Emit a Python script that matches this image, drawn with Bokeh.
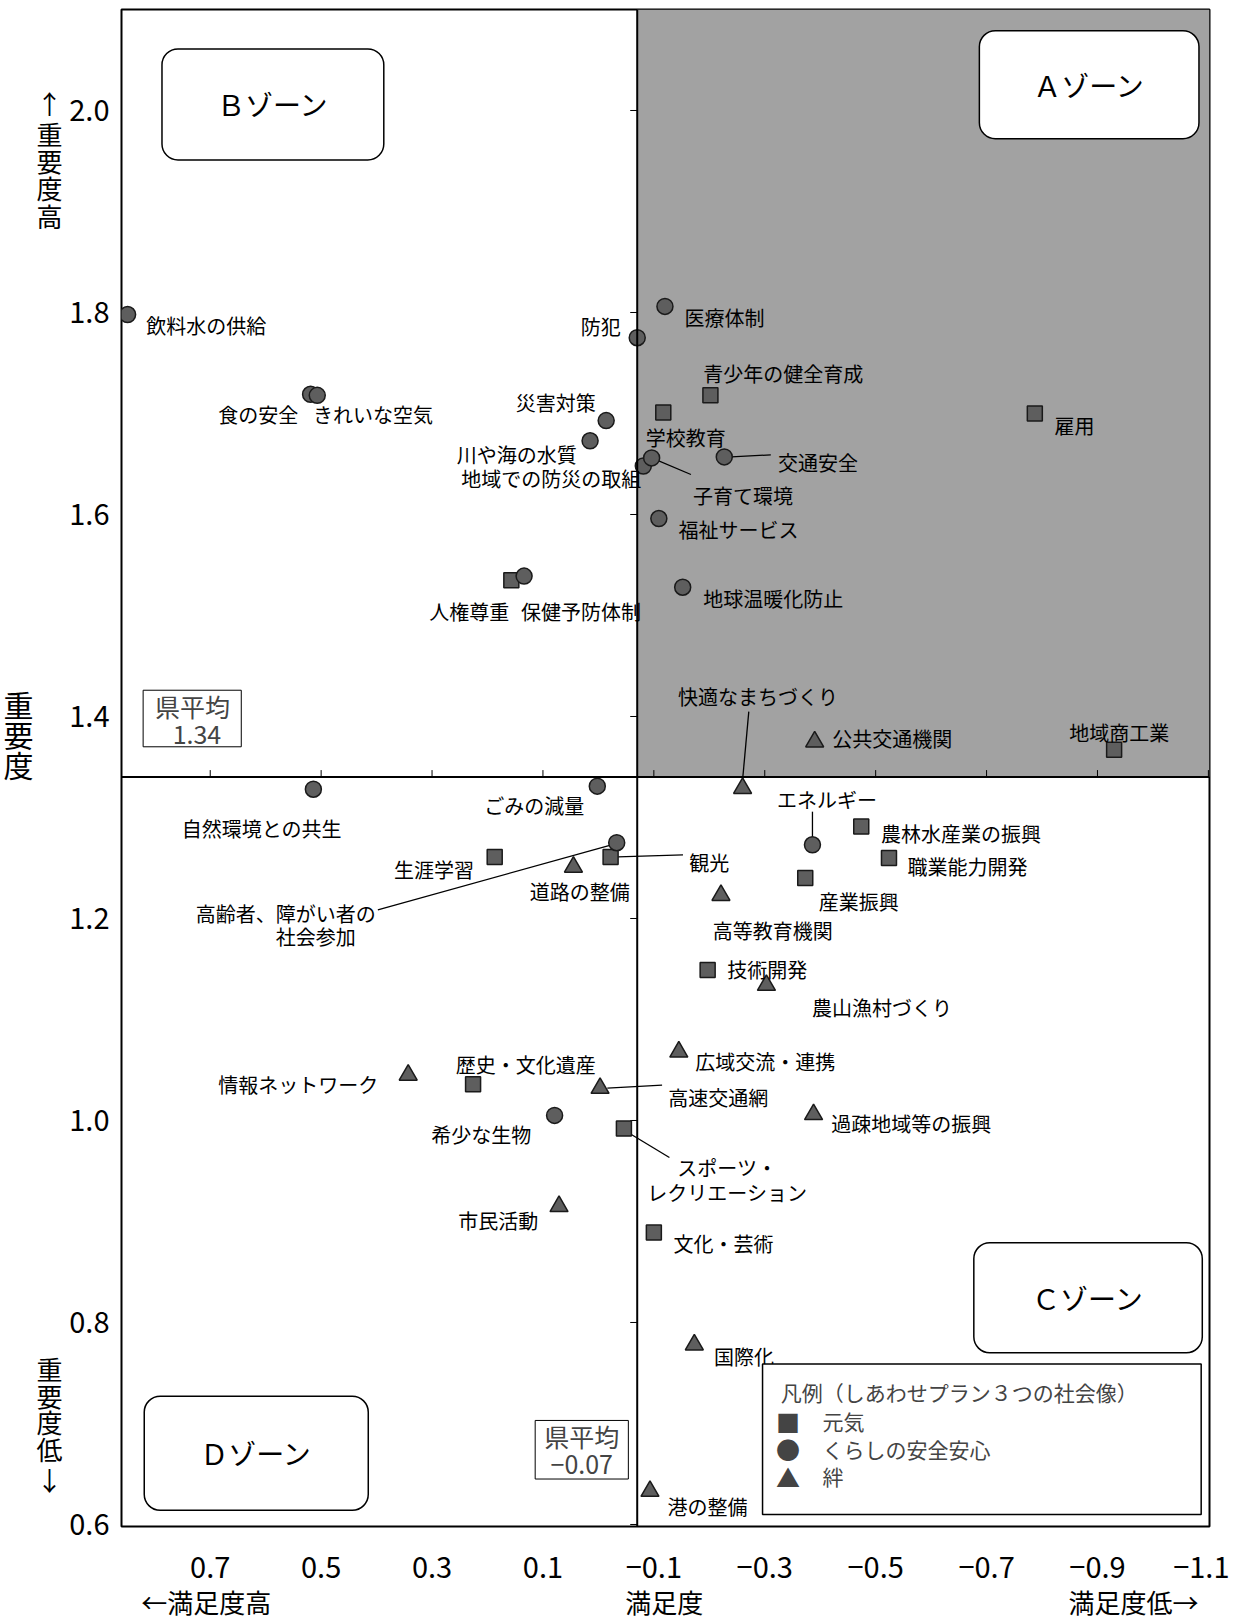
from bokeh.plotting import figure
from bokeh.models import ColumnDataSource, Range1d, FixedTicker, Span, BoxAnnotation, Label, LinearAxis
from bokeh.embed import file_html
from bokeh.resources import INLINE
from bokeh.core.properties import value

FONT = "Noto Sans CJK JP"

# ---------------- data ----------------
genki_names = ["青少年の健全育成", "学校教育", "雇用", "人権尊重", "地域商工業", "生涯学習", "観光",
               "農林水産業の振興", "職業能力開発", "産業振興", "技術開発", "歴史・文化遺産",
               "スポーツ・レクリエーション", "文化・芸術"]
genki_x = [-0.202, -0.117, -0.787, 0.157, -0.930, 0.187, -0.022, -0.474, -0.524, -0.373, -0.197, 0.226, -0.046, -0.100]
genki_y = [1.718, 1.701, 1.700, 1.535, 1.367, 1.261, 1.261, 1.291, 1.260, 1.240, 1.149, 1.036, 0.992, 0.889]

kurashi_names = ["飲料水の供給", "食の安全", "きれいな空気", "防犯", "医療体制", "災害対策", "川や海の水質",
                 "地域での防災の取組", "子育て環境", "交通安全", "福祉サービス", "地球温暖化防止", "保健予防体制",
                 "自然環境との共生", "ごみの減量", "高齢者、障がい者の社会参加", "エネルギー", "希少な生物"]
kurashi_x = [0.849, 0.519, 0.507, -0.070, -0.120, -0.014, 0.015, -0.081, -0.096, -0.227, -0.109, -0.152, 0.134,
             0.514, 0.002, -0.033, -0.386, 0.079]
kurashi_y = [1.798, 1.719, 1.718, 1.775, 1.806, 1.693, 1.673, 1.648, 1.656, 1.657, 1.596, 1.528, 1.539,
             1.328, 1.331, 1.275, 1.273, 1.005]

kizuna_names = ["快適なまちづくり", "公共交通機関", "道路の整備", "高等教育機関", "農山漁村づくり", "広域交流・連携",
                "情報ネットワーク", "高速交通網", "過疎地域等の振興", "市民活動", "国際化", "港の整備"]
kizuna_x = [-0.260, -0.390, 0.045, -0.221, -0.303, -0.145, 0.343, -0.003, -0.388, 0.071, -0.173, -0.093]
kizuna_y = [1.329, 1.375, 1.251, 1.223, 1.134, 1.068, 1.045, 1.032, 1.006, 0.915, 0.778, 0.633]

x_ticks = [0.7, 0.5, 0.3, 0.1, -0.1, -0.3, -0.5, -0.7, -0.9, -1.1]
x_tick_labels = ["0.7", "0.5", "0.3", "0.1", "−0.1", "−0.3", "−0.5", "−0.7", "−0.9", "−1.1"]
y_ticks = [2.0, 1.8, 1.6, 1.4, 1.2, 1.0, 0.8, 0.6]
y_tick_labels = ["2.0", "1.8", "1.6", "1.4", "1.2", "1.0", "0.8", "0.6"]

avg_x = -0.07   # 県平均 満足度
avg_y = 1.34    # 県平均 重要度

# ---------------- layout ----------------
X_LEFT, X_RIGHT = 0.86, -1.102
Y_BOTTOM, Y_TOP = 0.598, 2.1
FW, FH = 1088, 1517
PX_X = FW / (X_LEFT - X_RIGHT)
PX_Y = FH / (Y_TOP - Y_BOTTOM)
S = 1.034  # reference px scale


def yv(yf):
    return 2.0 - (yf - 108) / 1013.0


def xv(xf):
    return 0.7 - (xf - 209) / 555.6


# label offsets (reference px, screen: +x right, +y down)
label_spec = {
    "飲料水の供給": [("飲料水の供給", 18, 11, "left")],
    "食の安全": [("食の安全", -12, 20, "right")],
    "きれいな空気": [("きれいな空気", -4, 19, "left")],
    "防犯": [("防犯", -16, -11, "right")],
    "医療体制": [("医療体制", 19, 11, "left")],
    "災害対策": [("災害対策", -10, -17, "right")],
    "川や海の水質": [("川や海の水質", -13, 13, "right")],
    "地域での防災の取組": [("地域での防災の取組", -2, 12, "right")],
    "子育て環境": [("子育て環境", 40, 36, "left")],
    "交通安全": [("交通安全", 52, 5, "left")],
    "福祉サービス": [("福祉サービス", 19, 11, "left")],
    "地球温暖化防止": [("地球温暖化防止", 20, 11, "left")],
    "保健予防体制": [("保健予防体制", -3, 34, "left")],
    "自然環境との共生": [("自然環境との共生", -50, 38, "center")],
    "ごみの減量": [("ごみの減量", -61, 19, "center")],
    "高齢者、障がい者の社会参加": [("高齢者、障がい者の", -233, 68, "right"), ("社会参加", -291, 91, "center")],
    "エネルギー": [("エネルギー", 14, -44, "center")],
    "希少な生物": [("希少な生物", -71, 18, "center")],
    "青少年の健全育成": [("青少年の健全育成", -7, -21, "left")],
    "学校教育": [("学校教育", -17, 24, "left")],
    "雇用": [("雇用", 19, 12, "left")],
    "人権尊重": [("人権尊重", -2, 30, "right")],
    "地域商工業": [("地域商工業", 5, -17, "center")],
    "生涯学習": [("生涯学習", -20, 12, "right")],
    "観光": [("観光", 76, 5, "left")],
    "農林水産業の振興": [("農林水産業の振興", 19, 7, "left")],
    "職業能力開発": [("職業能力開発", 18, 8, "left")],
    "産業振興": [("産業振興", 13, 23, "left")],
    "技術開発": [("技術開発", 19, 0, "left")],
    "歴史・文化遺産": [("歴史・文化遺産", 51, -19, "center")],
    "スポーツ・レクリエーション": [("スポーツ・", 100, 38, "center"), ("レクリエーション", 100, 62, "center")],
    "文化・芸術": [("文化・芸術", 19, 11, "left")],
    "快適なまちづくり": [("快適なまちづくり", 15, -89, "center")],
    "公共交通機関": [("公共交通機関", 17, -3, "left")],
    "道路の整備": [("道路の整備", 6, 24, "center")],
    "高等教育機関": [("高等教育機関", 50, 34, "center")],
    "農山漁村づくり": [("農山漁村づくり", 44, 22, "left")],
    "広域交流・連携": [("広域交流・連携", 16, 9, "left")],
    "情報ネットワーク": [("情報ネットワーク", -29, 9, "right")],
    "高速交通網": [("高速交通網", 66, 9, "left")],
    "過疎地域等の振興": [("過疎地域等の振興", 17, 9, "left")],
    "市民活動": [("市民活動", -20, 14, "right")],
    "国際化": [("国際化", 19, 11, "left")],
    "港の整備": [("港の整備", 17, 15, "left")],
}
leader_spec = {
    "子育て環境": (0, 0, 38, 16),
    "交通安全": (7, 0, 45, -2),
    "快適なまちづくり": (0, -8, 6, -74),
    "エネルギー": (0, -7, 0, -32),
    "観光": (7, 0, 70, -2),
    "高齢者、障がい者の社会参加": (-5, 2, -231, 65),
    "高速交通網": (7, 0, 60, -3),
    "スポーツ・レクリエーション": (6, 5, 44, 28),
}

pos = {}
for n, x, y in zip(genki_names, genki_x, genki_y):
    pos[n] = (x, y)
for n, x, y in zip(kurashi_names, kurashi_x, kurashi_y):
    pos[n] = (x, y)
for n, x, y in zip(kizuna_names, kizuna_x, kizuna_y):
    pos[n] = (x, y)

p = figure(frame_width=FW, frame_height=FH,
           x_range=Range1d(X_LEFT, X_RIGHT), y_range=Range1d(Y_BOTTOM, Y_TOP),
           output_backend="svg", toolbar_location=None,
           min_border_left=120, min_border_right=20, min_border_top=9, min_border_bottom=90,
           background_fill_color="white", border_fill_color="white")
p.grid.visible = False
p.outline_line_color = "black"
p.outline_line_width = 2


def style_axis(ax, size):
    ax.axis_line_color = None
    ax.major_tick_line_color = None
    ax.minor_tick_line_color = None
    ax.major_tick_out = 0
    ax.major_tick_in = 0
    ax.minor_tick_out = 0
    ax.minor_tick_in = 0
    ax.major_label_text_font = FONT
    ax.major_label_text_font_size = size
    ax.major_label_text_color = "black"


# main axes
style_axis(p.xaxis[0], "29px")
style_axis(p.yaxis[0], "29px")
p.xaxis[0].ticker = FixedTicker(ticks=x_ticks)
p.xaxis[0].major_label_overrides = {t: l for t, l in zip(x_ticks, x_tick_labels)}
p.xaxis[0].major_label_standoff = 30
p.yaxis[0].ticker = FixedTicker(ticks=y_ticks)
p.yaxis[0].major_label_overrides = {t: l for t, l in zip(y_ticks, y_tick_labels)}
p.yaxis[0].major_label_standoff = 12

# axis titles as extra axes (stacked vertical characters / bottom captions)
v_chars = list("↑重要度高") + list("重要度低↓")
v_pos = [yv(f) for f in [100, 131, 158, 185, 213, 1370, 1397, 1423, 1450, 1481]]
ax2 = LinearAxis(ticker=FixedTicker(ticks=v_pos),
                 major_label_overrides={t: c for t, c in zip(v_pos, v_chars)})
style_axis(ax2, "26px")
ax2.major_label_standoff = 4
p.add_layout(ax2, "left")

m_chars = list("重要度")
m_pos = [yv(f) for f in [703, 733, 763]]
ax3 = LinearAxis(ticker=FixedTicker(ticks=m_pos),
                 major_label_overrides={t: c for t, c in zip(m_pos, m_chars)})
style_axis(ax3, "30px")
ax3.major_label_standoff = 0
p.add_layout(ax3, "left")

b_text = ["←満足度高", "満足度", "満足度低→"]
b_pos = [xv(205), xv(664), xv(1134)]
ax4 = LinearAxis(ticker=FixedTicker(ticks=b_pos),
                 major_label_overrides={t: c for t, c in zip(b_pos, b_text)})
style_axis(ax4, "26px")
ax4.major_label_standoff = 2
p.add_layout(ax4, "below")

# A zone shading
p.quad(left=[avg_x], right=[X_RIGHT], bottom=[avg_y], top=[Y_TOP],
       fill_color="#a2a2a2", line_color=None)

# average lines
p.add_layout(Span(location=avg_x, dimension="height", line_color="black", line_width=2))
p.add_layout(Span(location=avg_y, dimension="width", line_color="black", line_width=2))
# small ticks on the average lines
xt = [t for t in x_ticks if X_RIGHT < t < X_LEFT]
p.segment(x0=xt, y0=[avg_y] * len(xt), x1=xt, y1=[avg_y + 7 / PX_Y] * len(xt), line_color="black", line_width=1)
yt = [t for t in y_ticks if Y_BOTTOM < t < Y_TOP]
p.segment(x0=[avg_x] * len(yt), y0=yt, x1=[avg_x + 7 / PX_X] * len(yt), y1=yt, line_color="black", line_width=1)

# leader lines
lx0, ly0, lx1, ly1 = [], [], [], []
for name, (a, b, c, d) in leader_spec.items():
    x, y = pos[name]
    lx0.append(x - a * S / PX_X); ly0.append(y - b * S / PX_Y)
    lx1.append(x - c * S / PX_X); ly1.append(y - d * S / PX_Y)
p.segment(x0=lx0, y0=ly0, x1=lx1, y1=ly1, line_color="black", line_width=1.3)

# markers
MF, ML = "#5e5e5e", "#1a1a1a"
p.scatter(genki_x, genki_y, marker="square", size=15, fill_color=MF, line_color=ML, line_width=1.5)
p.scatter(kurashi_x, kurashi_y, marker="circle", size=16, fill_color=MF, line_color=ML, line_width=1.5)
p.scatter(kizuna_x, kizuna_y, marker="triangle", size=18, fill_color=MF, line_color=ML, line_width=1.5)

# point labels
tx, ty, tt, tdx, tdy, tal = [], [], [], [], [], []
for name, items in label_spec.items():
    x, y = pos[name]
    for text, dx, dy, al in items:
        tx.append(x); ty.append(y); tt.append(text)
        tdx.append(dx * S); tdy.append(dy * S); tal.append(al)
src = ColumnDataSource(dict(x=tx, y=ty, text=tt, dx=tdx, dy=tdy, al=tal))
p.text(x="x", y="y", text="text", x_offset="dx", y_offset="dy", text_align="al",
       text_baseline="middle", text_font=value(FONT), text_font_size="20px",
       text_color="black", source=src)

# zone boxes
zones = [("Ｂゾーン", 0.787, 0.387, 2.061, 1.951),
         ("Ａゾーン", -0.687, -1.083, 2.079, 1.972),
         ("Ｃゾーン", -0.677, -1.089, 0.879, 0.770),
         ("Ｄゾーン", 0.819, 0.415, 0.727, 0.614)]
for text, l, r, t, b in zones:
    p.add_layout(BoxAnnotation(left=l, right=r, top=t, bottom=b, fill_color="white", fill_alpha=1.0,
                               line_color="black", line_alpha=1.0, line_width=1.5, border_radius=16))
    p.add_layout(Label(x=(l + r) / 2, y=(t + b) / 2, text=text, text_font=FONT, text_font_size="28px",
                       text_align="center", text_baseline="middle", text_color="black"))

# 県平均 boxes
p.add_layout(BoxAnnotation(left=0.821, right=0.644, top=1.426, bottom=1.370, fill_color="white",
                           fill_alpha=1.0, line_color="black", line_alpha=1.0, line_width=1))
p.add_layout(Label(x=0.732, y=1.410, text="県平均", text_font=FONT, text_font_size="25px",
                   text_align="center", text_baseline="middle"))
p.add_layout(Label(x=0.724, y=1.382, text="1.34", text_font=FONT, text_font_size="25px",
                   text_align="center", text_baseline="middle"))
p.add_layout(BoxAnnotation(left=0.114, right=-0.054, top=0.703, bottom=0.645, fill_color="white",
                           fill_alpha=1.0, line_color="black", line_alpha=1.0, line_width=1))
p.add_layout(Label(x=0.030, y=0.688, text="県平均", text_font=FONT, text_font_size="25px",
                   text_align="center", text_baseline="middle"))
p.add_layout(Label(x=0.030, y=0.659, text="−0.07", text_font=FONT, text_font_size="25px",
                   text_align="center", text_baseline="middle"))

# legend
p.add_layout(BoxAnnotation(left=-0.296, right=-1.087, top=0.759, bottom=0.610, fill_color="white",
                           fill_alpha=1.0, line_color="black", line_alpha=1.0, line_width=1.5))
p.add_layout(Label(x=-0.329, y=0.731, text="凡例（しあわせプラン３つの社会像）", text_font=FONT,
                   text_font_size="21px", text_align="left", text_baseline="middle"))
for sym, txt, yy in [("■", "元気", 0.702), ("●", "くらしの安全安心", 0.675), ("▲", "絆", 0.648)]:
    p.add_layout(Label(x=-0.342, y=yy, text=sym, text_font=FONT, text_font_size="24px",
                       text_align="center", text_baseline="middle"))
    p.add_layout(Label(x=-0.404, y=yy, text=txt, text_font=FONT, text_font_size="21px",
                       text_align="left", text_baseline="middle"))

open("out.html", "w").write(file_html(p, INLINE))
